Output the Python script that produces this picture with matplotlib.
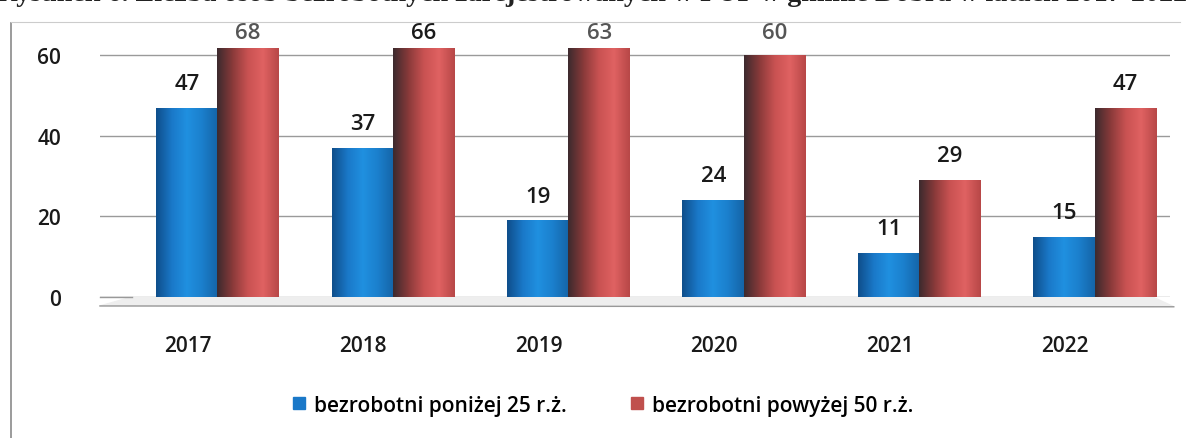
import numpy as np
import matplotlib
matplotlib.use("Agg")
import matplotlib.pyplot as plt
from matplotlib.colors import LinearSegmentedColormap
from matplotlib.lines import Line2D

years = ["2017", "2018", "2019", "2020", "2021", "2022"]
below_25 = [47, 37, 19, 24, 11, 15]
above_50 = [68, 66, 63, 60, 29, 47]
series_names = ["bezrobotni poniżej 25 r.ż.", "bezrobotni powyżej 50 r.ż."]
title_text = "Rysunek 6. Liczba osób bezrobotnych zarejestrowanych w PUP w gminie Dobra w latach 2017-2022"

plt.rcParams["font.family"] = ["Open Sans", "DejaVu Sans"]

blue_map = LinearSegmentedColormap.from_list(
    "blue", ["#0f4f8c", "#1a78c8", "#2090e0", "#1b7fcc", "#1565a8"])
red_map = LinearSegmentedColormap.from_list(
    "red", ["#3e2a2e", "#8a3a3a", "#c95252", "#e06262", "#b84848"])

fig = plt.figure(figsize=(12.04, 4.39), dpi=100)
ax = fig.add_axes([0.083, 0.321, 0.889, 0.565])

x = np.arange(len(years))
w = 0.35
shift = 0.17
ymax = 61.5
grad = np.linspace(0, 1, 64).reshape(1, -1)

bars_b = ax.bar(x + shift - w / 2, below_25, w, color="#1a78c8", zorder=3)
bars_r = ax.bar(x + shift + w / 2, above_50, w, color="#c0504d", zorder=3)

for bars, cmap in [(bars_b, blue_map), (bars_r, red_map)]:
    for b in bars:
        x0 = b.get_x()
        h = min(b.get_height(), ymax)
        im = ax.imshow(grad, extent=[x0, x0 + b.get_width(), 0, h],
                       aspect="auto", cmap=cmap, zorder=4)
        im.set_clip_path(b)

for bars, vals in [(bars_b, below_25), (bars_r, above_50)]:
    for b, v in zip(bars, vals):
        top = min(v, ymax - 2)
        col = "#555555" if v in (68, 63, 60) else "#1a1a1a"
        ax.annotate(str(v), (b.get_x() + b.get_width() / 2, top),
                    xytext=(0, 10), textcoords="offset points",
                    ha="center", va="bottom", fontsize=16, color=col,
                    fontweight="semibold", annotation_clip=False, zorder=6)

# floor of the pseudo-3D plot
ax.fill([-0.5, 5.62, 5.5, -0.32], [-2.2, -2.4, 0, 0], color="#eeeeee", zorder=1, clip_on=False)
ax.plot([-0.5, 5.62], [-2.2, -2.4], color="#999999", lw=1, clip_on=False, zorder=2)

ax.set_xlim(-0.5, 5.6)
ax.set_ylim(0, ymax)
ax.set_yticks([0, 20, 40, 60])
ax.set_xticks(x)
ax.set_xticklabels(years)
ax.tick_params(axis="both", length=0, labelsize=15, colors="#1a1a1a")
ax.tick_params(axis="x", pad=27)
ax.tick_params(axis="y", pad=28)
for lab in ax.get_xticklabels() + ax.get_yticklabels():
    lab.set_fontweight("semibold")
ax.grid(axis="y", color="#9a9a9a", lw=1, zorder=0)
ax.set_axisbelow(True)
for s in ax.spines.values():
    s.set_visible(False)
ax.plot([-0.5, -0.32], [0, 0], color="#999999", lw=1, clip_on=False)

handles = [Line2D([], [], marker="s", ls="", markersize=9, color="#1a78c8"),
           Line2D([], [], marker="s", ls="", markersize=9, color="#c0504d")]
fig.legend(handles, series_names, loc="center", bbox_to_anchor=(0.5, 0.075),
           ncol=2, frameon=False, handletextpad=0.3,
           columnspacing=3.0, handlelength=0.8,
           prop={"size": 15, "weight": "semibold"})

fig.text(0.492, 1.012, title_text, ha="center", va="center", fontsize=20.2,
         fontweight="bold", family="Liberation Serif", color="#222222")
fig.add_artist(Line2D([0.009, 0.009], [0, 0.945], color="#8a8a8a", lw=1.2))
fig.add_artist(Line2D([0.009, 0.98], [0.948, 0.948], color="#cccccc", lw=0.8))

fig.savefig("out.png", dpi=100, facecolor="white")
